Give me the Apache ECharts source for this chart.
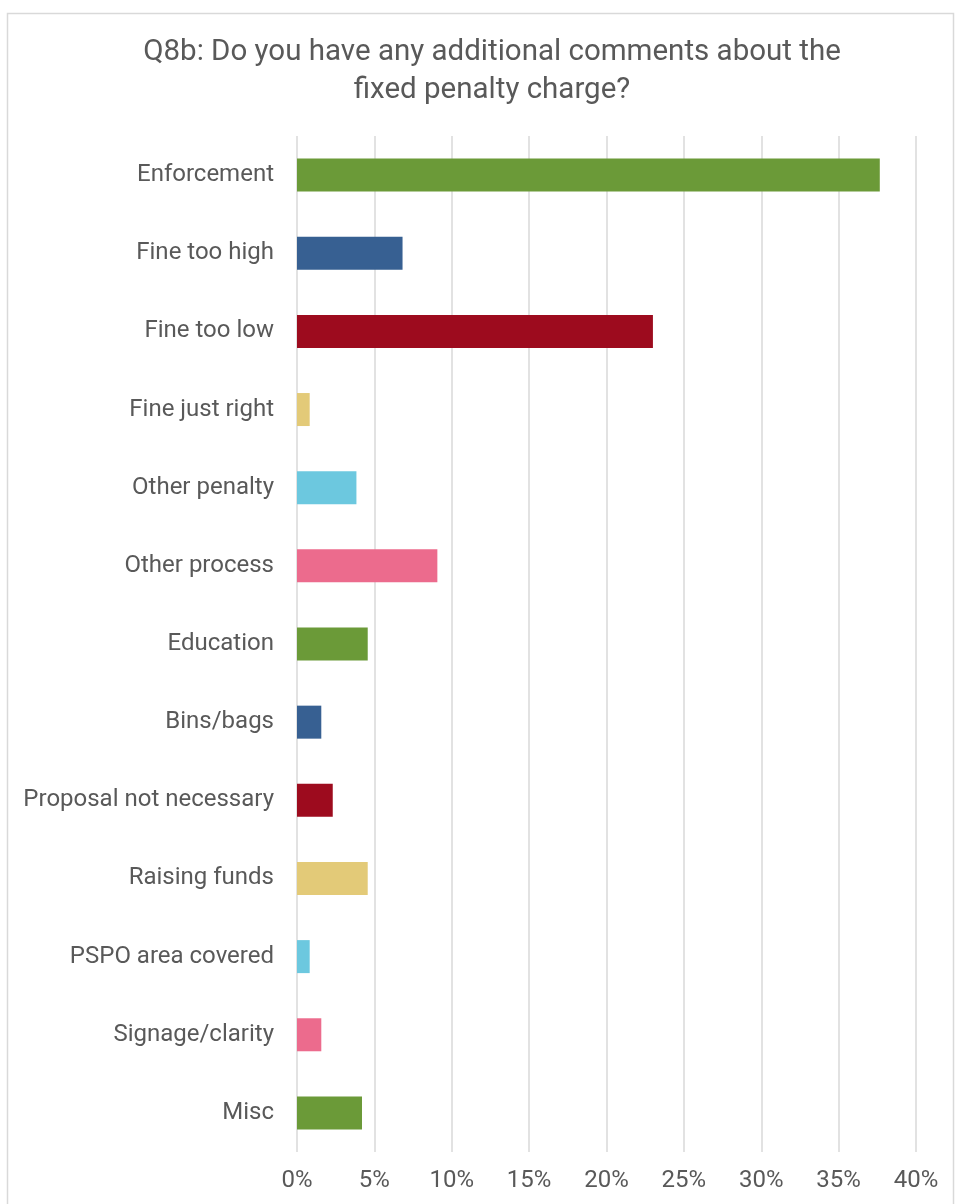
<!DOCTYPE html>
<html>
<head>
<meta charset="utf-8">
<script src="https://cdn.jsdelivr.net/npm/echarts@6/dist/echarts.min.js"></script>
<style>
  html, body { margin: 0; padding: 0; background: #fff; }
  #chart { width: 955px; height: 1204px; }
</style>
</head>
<body>
<div id="chart"></div>
<script>
// categories top to bottom
var categories = ['Enforcement', 'Fine too high', 'Fine too low', 'Fine just right', 'Other penalty',
    'Other process', 'Education', 'Bins/bags', 'Proposal not necessary', 'Raising funds',
    'PSPO area covered', 'Signage/clarity', 'Misc'];
// percent of responses
var values = [37.66, 6.82, 23.0, 0.82, 3.84, 9.07, 4.57, 1.57, 2.31, 4.57, 0.82, 1.57, 4.2];
var barColors = ['#6b9a38', '#376092', '#9d0b1e', '#e3ca78', '#6cc8df', '#ec6b8d'];
var xTicks = [0, 5, 10, 15, 20, 25, 30, 35, 40];

var chart = echarts.init(document.getElementById('chart'));

var option = {
    backgroundColor: '#fff',
    animation: false,
    title: {
        text: 'Q8b: Do you have any additional comments about the\nfixed penalty charge?',
        left: 487,
        top: 29,
        textAlign: 'center',
        textStyle: {
            fontFamily: 'Roboto',
            fontSize: 29.5,
            fontWeight: 'normal',
            color: '#595959',
            lineHeight: 38
        }
    },
    graphic: [{
        type: 'rect',
        shape: { x: 7.5, y: 13.5, width: 946, height: 1220 },
        style: { fill: 'none', stroke: '#d9d9d9', lineWidth: 1.5 },
        silent: true
    }],
    grid: {
        left: 297,
        right: 39,
        top: 136,
        bottom: 52,
        containLabel: false
    },
    xAxis: {
        type: 'value',
        min: xTicks[0],
        max: xTicks[xTicks.length - 1],
        interval: 5,
        axisLine: { show: false },
        axisTick: { show: false },
        splitLine: { lineStyle: { color: '#d9d9d9', width: 1.5 } },
        axisLabel: {
            formatter: '{value}%',
            fontFamily: 'Roboto',
            fontSize: 24,
            color: '#595959',
            margin: 17
        }
    },
    yAxis: {
        type: 'category',
        data: categories,
        inverse: true,
        axisLine: { show: false },
        axisTick: { show: false },
        axisLabel: {
            fontFamily: 'Roboto',
            fontSize: 24,
            color: '#595959',
            margin: 23
        }
    },
    series: [{
        type: 'bar',
        data: values,
        barWidth: 33,
        itemStyle: {
            color: function (p) {
                return barColors[p.dataIndex % barColors.length];
            }
        }
    }]
};

chart.setOption(option);
</script>
</body>
</html>
